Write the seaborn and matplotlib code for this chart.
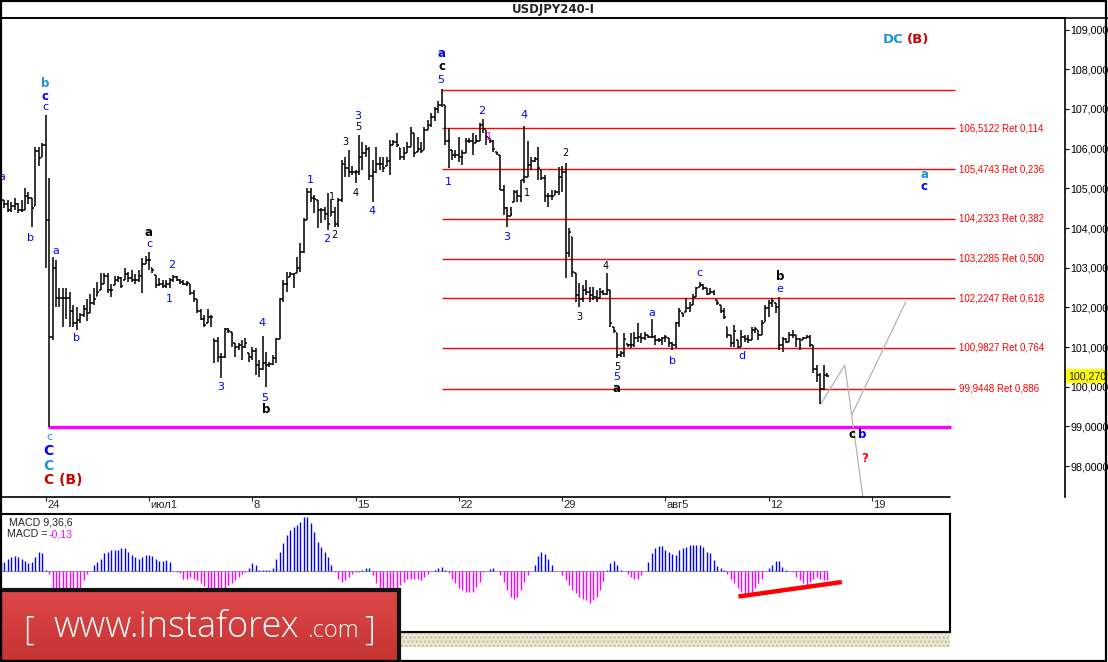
import numpy as np
import matplotlib
matplotlib.use("Agg")
import matplotlib.pyplot as plt
import seaborn as sns
from matplotlib.patches import Rectangle
from matplotlib.lines import Line2D

# -------------------------
# 1. price bars (4H)
# -------------------------
highs = [
    104.85, 104.70, 104.70, 104.65, 104.75, 104.62, 104.70, 105.00, 104.90, 104.75,
    106.05, 106.05, 106.15, 106.85, 105.26, 103.27, 103.20, 102.50, 102.50, 102.50,
    102.40, 102.05, 102.00, 101.85, 102.05, 102.20, 102.35, 102.50, 102.65, 102.86,
    102.86, 102.86, 102.60, 102.80, 102.80, 102.76, 103.00, 102.90, 102.95, 102.85,
    102.95, 103.25, 103.30, 103.40, 103.00, 102.82, 102.75, 102.70, 102.68, 102.75,
    102.82, 102.78, 102.72, 102.68, 102.66, 102.60, 102.45, 102.20, 101.95, 101.80,
    101.95, 101.81, 101.20, 101.25, 100.85, 101.48, 101.48, 101.38, 101.10, 101.10,
    101.18, 101.22, 100.85, 101.00, 100.98, 100.67, 101.28, 100.88, 100.63, 100.80,
    101.22, 102.23, 102.69, 102.90, 102.90, 102.86, 103.27, 103.62, 104.25, 105.00,
    105.00, 104.83, 104.70, 104.50, 104.53, 104.88, 104.70, 104.53, 104.76, 105.71,
    105.78, 105.96, 105.55, 105.46, 106.34, 106.17, 106.09, 106.05, 105.71, 106.05,
    105.79, 105.79, 105.79, 106.22, 106.22, 106.40, 106.02, 106.05, 106.17, 106.55,
    106.40, 106.30, 106.17, 106.55, 106.72, 106.90, 107.05, 107.20, 107.49, 107.10,
    106.51, 105.97, 105.97, 106.30, 105.97, 106.26, 106.26, 106.39, 106.34, 106.64,
    106.74, 106.47, 106.26, 106.22, 105.92, 105.84, 105.08, 104.54, 104.54, 104.96,
    104.96, 105.21, 106.57, 106.18, 105.80, 105.80, 106.05, 105.46, 105.33, 104.87,
    104.96, 104.96, 105.54, 105.55, 105.63, 103.99, 103.78, 102.86, 102.61, 102.56,
    102.69, 102.52, 102.52, 102.44, 102.48, 102.44, 102.86, 102.44, 101.51, 101.35,
    100.89, 101.35, 101.09, 101.35, 101.39, 101.60, 101.35, 101.39, 101.31, 101.72,
    101.31, 101.22, 101.26, 101.31, 101.22, 101.14, 101.64, 101.98, 101.85, 102.23,
    102.14, 102.35, 102.52, 102.65, 102.60, 102.48, 102.48, 102.44, 102.19, 102.06,
    101.98, 101.51, 101.31, 101.56, 101.18, 101.43, 101.31, 101.31, 101.51, 101.51,
    101.43, 101.68, 102.06, 102.19, 102.23, 102.10, 102.27, 101.26, 101.22, 101.39,
    101.43, 101.31, 101.22, 101.26, 101.31, 101.31, 101.05, 100.55, 100.34, 100.55,
    100.35,
]
lows = [
    104.50, 104.50, 104.40, 104.40, 104.45, 104.38, 104.40, 104.45, 104.60, 104.03,
    104.55, 105.55, 105.80, 103.00, 98.99, 101.18, 102.00, 102.00, 101.50, 101.70,
    101.50, 101.50, 101.43, 101.60, 101.76, 101.65, 101.85, 102.06, 102.28, 102.45,
    102.60, 102.36, 102.25, 102.56, 102.65, 102.50, 102.70, 102.65, 102.65, 102.60,
    102.65, 102.36, 103.10, 102.95, 102.86, 102.50, 102.55, 102.50, 102.50, 102.50,
    102.65, 102.66, 102.60, 102.56, 102.55, 102.30, 102.14, 101.87, 101.68, 101.50,
    101.60, 101.50, 100.60, 100.62, 100.22, 100.73, 101.35, 101.00, 100.76, 100.93,
    100.68, 100.97, 100.62, 100.67, 100.30, 100.25, 100.42, 100.00, 100.50, 100.55,
    100.60, 101.20, 102.14, 102.40, 102.77, 102.50, 102.86, 102.90, 103.37, 104.20,
    104.66, 104.37, 104.00, 104.12, 104.20, 103.95, 104.30, 104.03, 104.03, 104.66,
    105.28, 105.28, 105.34, 105.13, 105.34, 105.46, 105.79, 105.21, 104.66, 105.38,
    105.46, 105.40, 105.55, 105.34, 106.10, 106.05, 105.71, 105.71, 105.90, 106.05,
    105.79, 105.92, 105.90, 105.96, 106.47, 106.55, 106.70, 106.90, 107.05, 106.09,
    105.50, 105.71, 105.76, 105.67, 105.59, 105.88, 106.13, 105.84, 106.13, 106.18,
    106.39, 106.09, 106.13, 105.92, 105.84, 104.96, 104.33, 104.03, 104.29, 104.66,
    104.66, 104.66, 105.13, 105.29, 105.46, 105.67, 105.21, 105.21, 104.66, 104.54,
    104.71, 104.83, 104.83, 104.90, 102.73, 103.28, 102.77, 102.14, 102.02, 102.14,
    102.31, 102.14, 102.19, 102.14, 102.23, 102.31, 102.31, 101.51, 101.35, 100.72,
    100.76, 100.76, 101.00, 100.97, 101.01, 101.14, 101.10, 101.18, 101.22, 101.22,
    101.05, 101.14, 101.05, 101.14, 101.01, 100.93, 100.97, 101.51, 101.77, 101.89,
    101.89, 102.06, 102.27, 102.52, 102.44, 102.31, 102.35, 102.31, 102.06, 101.85,
    101.72, 101.22, 101.01, 101.01, 100.97, 101.01, 101.14, 101.10, 101.18, 101.35,
    101.18, 101.31, 101.64, 101.77, 102.02, 101.85, 100.93, 100.88, 101.10, 101.14,
    101.22, 101.01, 100.93, 101.18, 101.22, 101.01, 100.34, 100.13, 99.57, 99.92,
    100.25,
]
closes = [
    104.70, 104.60, 104.45, 104.55, 104.60, 104.45, 104.42, 104.80, 104.75, 104.50,
    105.95, 105.76, 106.10, 104.20, 101.26, 103.00, 102.24, 102.24, 102.24, 102.24,
    101.90, 101.60, 101.68, 101.80, 101.95, 101.85, 102.10, 102.20, 102.40, 102.60,
    102.80, 102.45, 102.45, 102.70, 102.75, 102.55, 102.85, 102.75, 102.70, 102.70,
    102.80, 103.10, 103.20, 103.20, 102.95, 102.56, 102.60, 102.55, 102.60, 102.70,
    102.76, 102.70, 102.65, 102.60, 102.62, 102.36, 102.20, 101.90, 101.72, 101.55,
    101.76, 101.76, 101.15, 100.75, 100.75, 101.45, 101.40, 101.30, 101.00, 101.05,
    101.00, 101.10, 100.75, 100.90, 100.55, 100.45, 100.60, 100.55, 100.57, 100.72,
    101.20, 102.20, 102.60, 102.60, 102.85, 102.75, 103.00, 103.40, 104.20, 104.90,
    104.75, 104.72, 104.45, 104.45, 104.35, 104.10, 104.40, 104.10, 104.70, 105.60,
    105.50, 105.40, 105.40, 105.40, 105.79, 105.90, 106.00, 105.30, 105.40, 105.60,
    105.60, 105.50, 105.70, 106.10, 106.17, 106.10, 105.80, 105.90, 106.05, 106.45,
    105.90, 106.00, 105.95, 106.47, 106.60, 106.80, 107.00, 107.10, 107.20, 106.20,
    106.18, 105.84, 105.84, 105.80, 105.90, 106.20, 106.20, 106.10, 106.20, 106.60,
    106.50, 106.30, 106.20, 106.00, 105.88, 104.96, 104.50, 104.30, 104.35, 104.90,
    104.80, 105.20, 105.29, 105.58, 105.70, 105.75, 105.50, 105.25, 104.80, 104.80,
    104.80, 104.90, 105.29, 105.40, 103.36, 103.90, 102.90, 102.30, 102.20, 102.45,
    102.40, 102.30, 102.25, 102.20, 102.40, 102.35, 102.44, 101.60, 101.40, 100.80,
    100.85, 101.20, 101.05, 101.05, 101.22, 101.26, 101.22, 101.30, 101.26, 101.26,
    101.18, 101.18, 101.22, 101.26, 101.10, 101.05, 101.60, 101.90, 101.82, 101.98,
    102.00, 102.27, 102.48, 102.56, 102.50, 102.35, 102.40, 102.35, 102.10, 101.90,
    101.75, 101.30, 101.10, 101.40, 101.01, 101.26, 101.20, 101.18, 101.43, 101.45,
    101.30, 101.60, 101.98, 102.10, 102.15, 102.00, 101.05, 101.20, 101.14, 101.30,
    101.30, 101.20, 101.05, 101.22, 101.26, 101.05, 100.45, 100.30, 99.95, 100.30,
    100.27,
]

# MACD(9,36,6) histogram per bar
macd_hist = [
    0.11, 0.13, 0.17, 0.21, 0.22, 0.20, 0.17, 0.15, 0.11, 0.13, 0.20, 0.28, 0.26, 0.01,
    -0.05,
    -0.29, -0.41, -0.46, -0.49, -0.49, -0.46, -0.44, -0.38, -0.32, -0.13,
    -0.04, 0.00,
    0.08, 0.13, 0.18, 0.26, 0.28, 0.30, 0.30, 0.31, 0.33, 0.33, 0.27, 0.23,
    0.20, 0.18, 0.20, 0.23, 0.23, 0.22, 0.17, 0.15, 0.15, 0.16, 0.13, 0.00,
    -0.01,
    -0.03, -0.11, -0.11, -0.09, -0.11, -0.13, -0.17, -0.22, -0.24, -0.29,
    -0.32, -0.30, -0.29, -0.24, -0.20, -0.17, -0.13, -0.09, -0.04, -0.01,
    0.04, 0.12, 0.09, 0.02, 0.01, 0.01, 0.02, 0.04, 0.17, 0.28, 0.40, 0.52, 0.59,
    0.64, 0.67, 0.71, 0.78, 0.78, 0.69, 0.57, 0.42, 0.35, 0.28, 0.21, 0.09,
    -0.01,
    -0.12, -0.16, -0.13, -0.08, -0.04, -0.02, -0.01,
    0.01, 0.04, 0.04,
    -0.06, -0.18, -0.28, -0.30, -0.30, -0.30, -0.30, -0.28, -0.20, -0.16, -0.12,
    -0.11, -0.11, -0.12, -0.13, -0.09, -0.04,
    0.00,
    0.01, 0.04, 0.06, 0.02,
    -0.03, -0.11, -0.18, -0.24, -0.28, -0.30, -0.31, -0.30, -0.23, -0.16, -0.01,
    0.00, 0.03, 0.05, 0.00,
    -0.06, -0.16, -0.28, -0.37, -0.41, -0.37, -0.28, -0.16, -0.06,
    0.00,
    0.09, 0.22, 0.27, 0.25, 0.17, 0.09, 0.00,
    0.00,
    -0.06, -0.13, -0.20, -0.27, -0.32, -0.37, -0.41, -0.42, -0.46, -0.42, -0.37, -0.27, -0.14,
    0.01, 0.12, 0.15, 0.09, 0.01,
    0.00,
    -0.04, -0.08, -0.11, -0.11, -0.06, 0.00,
    0.13, 0.26, 0.33, 0.36, 0.36, 0.31, 0.27, 0.25, 0.23, 0.30, 0.33, 0.35,
    0.38, 0.38, 0.38, 0.38, 0.35, 0.27, 0.26, 0.16, 0.07, 0.04, 0.01,
    -0.04, -0.11, -0.18, -0.24, -0.30, -0.33, -0.33, -0.30, -0.24, -0.17, -0.11,
    0.00,
    0.04, 0.09, 0.15, 0.15, 0.06, 0.01,
    0.00,
    -0.01, -0.08, -0.13, -0.18, -0.20, -0.16, -0.11, -0.08, -0.11, -0.13, -0.13,
]
macd_value = -0.13

# fibonacci retracement of the 107.48 -> 98.98 swing
fib_top = 107.48
fib_levels = [106.5122, 105.4743, 104.2323, 103.2285, 102.2247, 100.9827, 99.9448]
fib_ratios = ["0,114", "0,236", "0,382", "0,500", "0,618", "0,764", "0,886"]
support_level = 98.98
last_price = 100.27

# forecast path (grey)
path1_bar = [238.1, 245.1, 250.7]
path1_price = [99.56, 100.55, 97.0]
path2_bar = [247.1, 262.8]
path2_price = [99.29, 102.14]

# MACD divergence line
div_bar = [214.2, 244.2]
div_val = [-0.37, -0.16]

date_labels = ["24", "июл1", "8", "15", "22", "29", "авг5", "12", "19"]
date_bars = [13, 43, 73, 103, 133, 163, 193, 223, 253]
price_ticks = list(range(98, 110))

BLUE = "#0000ff"
CYAN = "#1e96d2"
BLACK = "#000000"
DRED = "#cc0000"
MAG = "#ee00ee"

# wave labels: bar, price, text, colour, bold, size
wave_labels = [
    (0.3, 105.28, "a", BLUE, False, 8), (8.7, 103.75, "b", BLUE, False, 8),
    (12.9, 107.63, "b", CYAN, True, 8.5), (12.9, 107.32, "c", BLUE, True, 8.5),
    (12.9, 107.05, "c", BLUE, False, 8),
    (15.9, 103.43, "a", BLUE, False, 8), (21.9, 101.22, "b", BLUE, False, 8),
    (43.0, 103.88, "a", BLACK, True, 8.5), (43.0, 103.60, "c", BLUE, False, 8),
    (49.7, 103.07, "2", BLUE, False, 8), (48.9, 102.20, "1", BLUE, False, 8),
    (63.8, 100.00, "3", BLUE, False, 8),
    (75.8, 101.60, "4", BLUE, False, 8), (76.7, 99.71, "5", BLUE, False, 8),
    (76.9, 99.42, "b", BLACK, True, 8.5),
    (89.8, 105.21, "1", BLUE, False, 8), (94.6, 103.72, "2", BLUE, False, 8),
    (96.8, 103.82, "2", BLACK, False, 7), (96.1, 104.77, "1", BLACK, False, 7),
    (100.0, 106.16, "3", BLACK, False, 7), (103.6, 106.83, "3", BLUE, False, 8),
    (103.8, 106.54, "5", BLACK, False, 7), (102.9, 104.89, "4", BLACK, False, 7),
    (107.7, 104.43, "4", BLUE, False, 8),
    (128.0, 108.40, "a", BLUE, True, 8.5), (128.0, 108.06, "c", BLACK, True, 8.5),
    (127.7, 107.73, "5", BLUE, False, 8),
    (129.8, 105.17, "1", BLUE, False, 8), (139.7, 106.95, "2", BLUE, False, 8),
    (141.8, 106.28, "1", MAG, False, 7), (146.9, 103.77, "3", BLUE, False, 8),
    (151.8, 106.85, "4", BLUE, False, 8), (152.9, 104.89, "1", BLACK, False, 7),
    (163.9, 105.90, "2", BLACK, False, 7), (168.0, 101.75, "3", BLACK, False, 7),
    (175.7, 103.04, "4", BLACK, False, 7), (178.9, 100.51, "5", BLACK, False, 7),
    (178.9, 100.25, "5", BLUE, False, 8), (178.9, 99.95, "a", BLACK, True, 8.5),
    (189.0, 101.85, "a", BLUE, False, 8), (195.0, 100.65, "b", BLUE, False, 8),
    (202.8, 102.86, "c", BLUE, False, 8), (215.1, 100.78, "d", BLUE, False, 8),
    (226.3, 102.46, "e", BLUE, False, 8), (226.3, 102.77, "b", BLACK, True, 8.5),
    (247.1, 98.81, "c", BLACK, True, 8.5), (250.2, 98.81, "b", BLUE, True, 8.5),
    (250.9, 98.20, "?", "#ff0000", True, 8.5),
    (268.1, 105.35, "a", CYAN, True, 8.5), (268.1, 105.04, "c", BLUE, True, 8.5),
    (14.0, 98.74, "c", CYAN, False, 8),
    (13.8, 98.39, "C", BLUE, True, 10), (13.8, 98.01, "C", CYAN, True, 10),
]

# -------------------------
# 2. figure layout (pixel based, 1108x662)
# -------------------------
sns.set_theme(style="white")
plt.rcParams["font.family"] = ["DejaVu Sans"]
W, H = 1108, 662
fig = plt.figure(figsize=(W / 100, H / 100), dpi=100)
fig.patch.set_facecolor("white")

# hatched strip under the MACD panel (behind the banner)
fig.add_artist(Rectangle((0, (H - 647) / H), 950 / W, 14 / H, transform=fig.transFigure,
                         facecolor="#ebe8d2", edgecolor="#c2bd92", hatch="....", lw=0,
                         zorder=-1))

ax = fig.add_axes([0, (H - 497) / H, 1065 / W, 479 / H])
ax.set_facecolor("white")
ax.set_xlim(-0.273, 309.05)
ax.set_ylim(97.224, 109.29)

n = len(closes)
idx = np.arange(n)
hi = np.array(highs)
lo = np.array(lows)
cl = np.array(closes)
op = np.clip(np.r_[cl[0], cl[:-1]], lo, hi)

# fib lines + support
ax.hlines([fib_top] + fib_levels, 128, 277.1, color="#ff0000", lw=1.0, zorder=1)
for lvl, r in zip(fib_levels, fib_ratios):
    ax.text(278.3, lvl, f"{lvl:.4f}".replace(".", ",") + " Ret " + r,
            color="#ff0000", fontsize=7, family="Liberation Sans",
            ha="left", va="center")
ax.hlines(support_level, 13.8, 275.8, color="#ff00ff", lw=2.4, zorder=2)

# OHLC bars
ax.vlines(idx, lo, hi, color="black", lw=1.1, zorder=3)
ax.hlines(op, idx - 0.5, idx, color="black", lw=1.1, zorder=3)
ax.hlines(cl, idx, idx + 0.5, color="black", lw=1.1, zorder=3)

# forecast
sns.lineplot(x=path1_bar, y=path1_price, ax=ax, color="#b4b4b4", lw=0.9,
             sort=False, estimator=None)
sns.lineplot(x=path2_bar, y=path2_price, ax=ax, color="#b4b4b4", lw=0.9,
             sort=False, estimator=None)

for b, p, t, c, bold, s in wave_labels:
    ax.text(b, p, t, color=c, fontsize=s, fontweight="bold" if bold else "normal",
            ha="center", va="center", zorder=5)
ax.text(12.4, 97.65, "C (B)", color=DRED, fontsize=10, fontweight="bold",
        ha="left", va="center")
ax.text(262.1, 108.74, "DC", color=CYAN, fontsize=9.5, fontweight="bold",
        ha="right", va="center")
ax.text(263.1, 108.74, "(B)", color=DRED, fontsize=9.5, fontweight="bold",
        ha="left", va="center")

# axes frame
for s in ["left", "bottom"]:
    ax.spines[s].set_visible(False)
for s in ["top", "right"]:
    ax.spines[s].set_color("black")
    ax.spines[s].set_linewidth(1.2)
ax.plot([-0.273, 275.65], [97.224, 97.224], color="black", lw=1.2, clip_on=False)

ax.yaxis.tick_right()
ax.set_yticks(price_ticks)
ax.set_yticklabels([f"{v:.4f}".replace(".", ",") for v in price_ticks],
                   family="Liberation Sans", fontsize=7.7)
ax.tick_params(axis="y", direction="out", length=3, width=0.8, pad=1,
               colors="black", right=True)
ax.set_xticks(date_bars)
ax.set_xticklabels([])
ax.tick_params(axis="x", direction="out", length=3, width=0.8, bottom=True)
for b, lab in zip(date_bars, date_labels):
    ax.text(b + 0.4, -0.006, lab, transform=ax.get_xaxis_transform(),
            ha="left", va="top", fontsize=8, family="Liberation Sans")
ax.grid(False)

ax.text(1.003, last_price, "100,270", transform=ax.get_yaxis_transform(),
        ha="left", va="center", fontsize=7.7, family="Liberation Sans",
        bbox=dict(facecolor="#ffff00", edgecolor="none", pad=1.2), zorder=6)

# -------------------------
# 3. MACD panel
# -------------------------
ax2 = fig.add_axes([0, (H - 632) / H, 950 / W, 118 / H])
ax2.set_xlim(-0.273, 275.65)
ax2.set_ylim(-0.8845, 0.8265)
mh = np.array(macd_hist)
mi = np.arange(len(mh))
ax2.plot([0, len(mh) - 1], [0, 0], color="#9a9ac8", lw=0.8)
ax2.vlines(mi[mh > 0], 0, mh[mh > 0], color="#0000ff", lw=1.0)
ax2.vlines(mi[mh < 0], 0, mh[mh < 0], color="#ff00ff", lw=1.0)
ax2.plot(div_bar, div_val, color="#ff0000", lw=3.2, solid_capstyle="butt")
ax2.set_xticks([])
ax2.set_yticks([])
for s in ax2.spines.values():
    s.set_color("black")
    s.set_linewidth(1.5)
ax2.text(0.0095, 0.93, "MACD 9,36,6", transform=ax2.transAxes, fontsize=7.7,
         family="Liberation Sans", ha="left", va="center")
ax2.text(0.0075, 0.83, "MACD =", transform=ax2.transAxes, fontsize=7.7,
         family="Liberation Sans", ha="left", va="center")
ax2.text(0.051, 0.83, f"{macd_value:.2f}".replace(".", ","), transform=ax2.transAxes,
         fontsize=7.7, family="Liberation Sans", color="#ff00ff",
         ha="left", va="center")

# -------------------------
# 4. banner, title, frame
# -------------------------
bax = fig.add_axes([0, 0, 399 / W, 72 / H])
grad = np.linspace(0, 1, 50).reshape(-1, 1)
bax.imshow(grad, aspect="auto", extent=[0, 1, 0, 1],
           cmap=matplotlib.colors.LinearSegmentedColormap.from_list(
               "b", ["#de4747", "#c53333"]))
bax.set_xlim(0, 1)
bax.set_ylim(0, 1)
bax.set_xticks([])
bax.set_yticks([])
for s in bax.spines.values():
    s.set_color("#111111")
    s.set_linewidth(3)
bax.text(0.071, 0.43, "[", color="white", fontsize=24, ha="center", va="center",
         family="Open Sans", fontweight="light")
bax.text(0.133, 0.345, "www.instaforex", color="white", fontsize=26, ha="left",
         va="baseline", family="Open Sans", fontweight="light")
bax.text(0.77, 0.345, ".com", color="white", fontsize=17, ha="left",
         va="baseline", family="Open Sans", fontweight="light")
bax.text(0.926, 0.43, "]", color="white", fontsize=24, ha="center", va="center",
         family="Open Sans", fontweight="light")

fig.text(553 / W, 1 - 9 / H, "USDJPY240-I", ha="center", va="center",
         fontsize=8.5, fontweight="bold")
fig.add_artist(Line2D([0, 1], [(H - 18) / H] * 2, transform=fig.transFigure,
                      color="black", lw=1.2))
fig.add_artist(Rectangle((0.0005, 0.0008), 0.998, 0.998, transform=fig.transFigure,
                         fill=False, edgecolor="black", lw=1.6))

fig.savefig("out.png", dpi=100)
